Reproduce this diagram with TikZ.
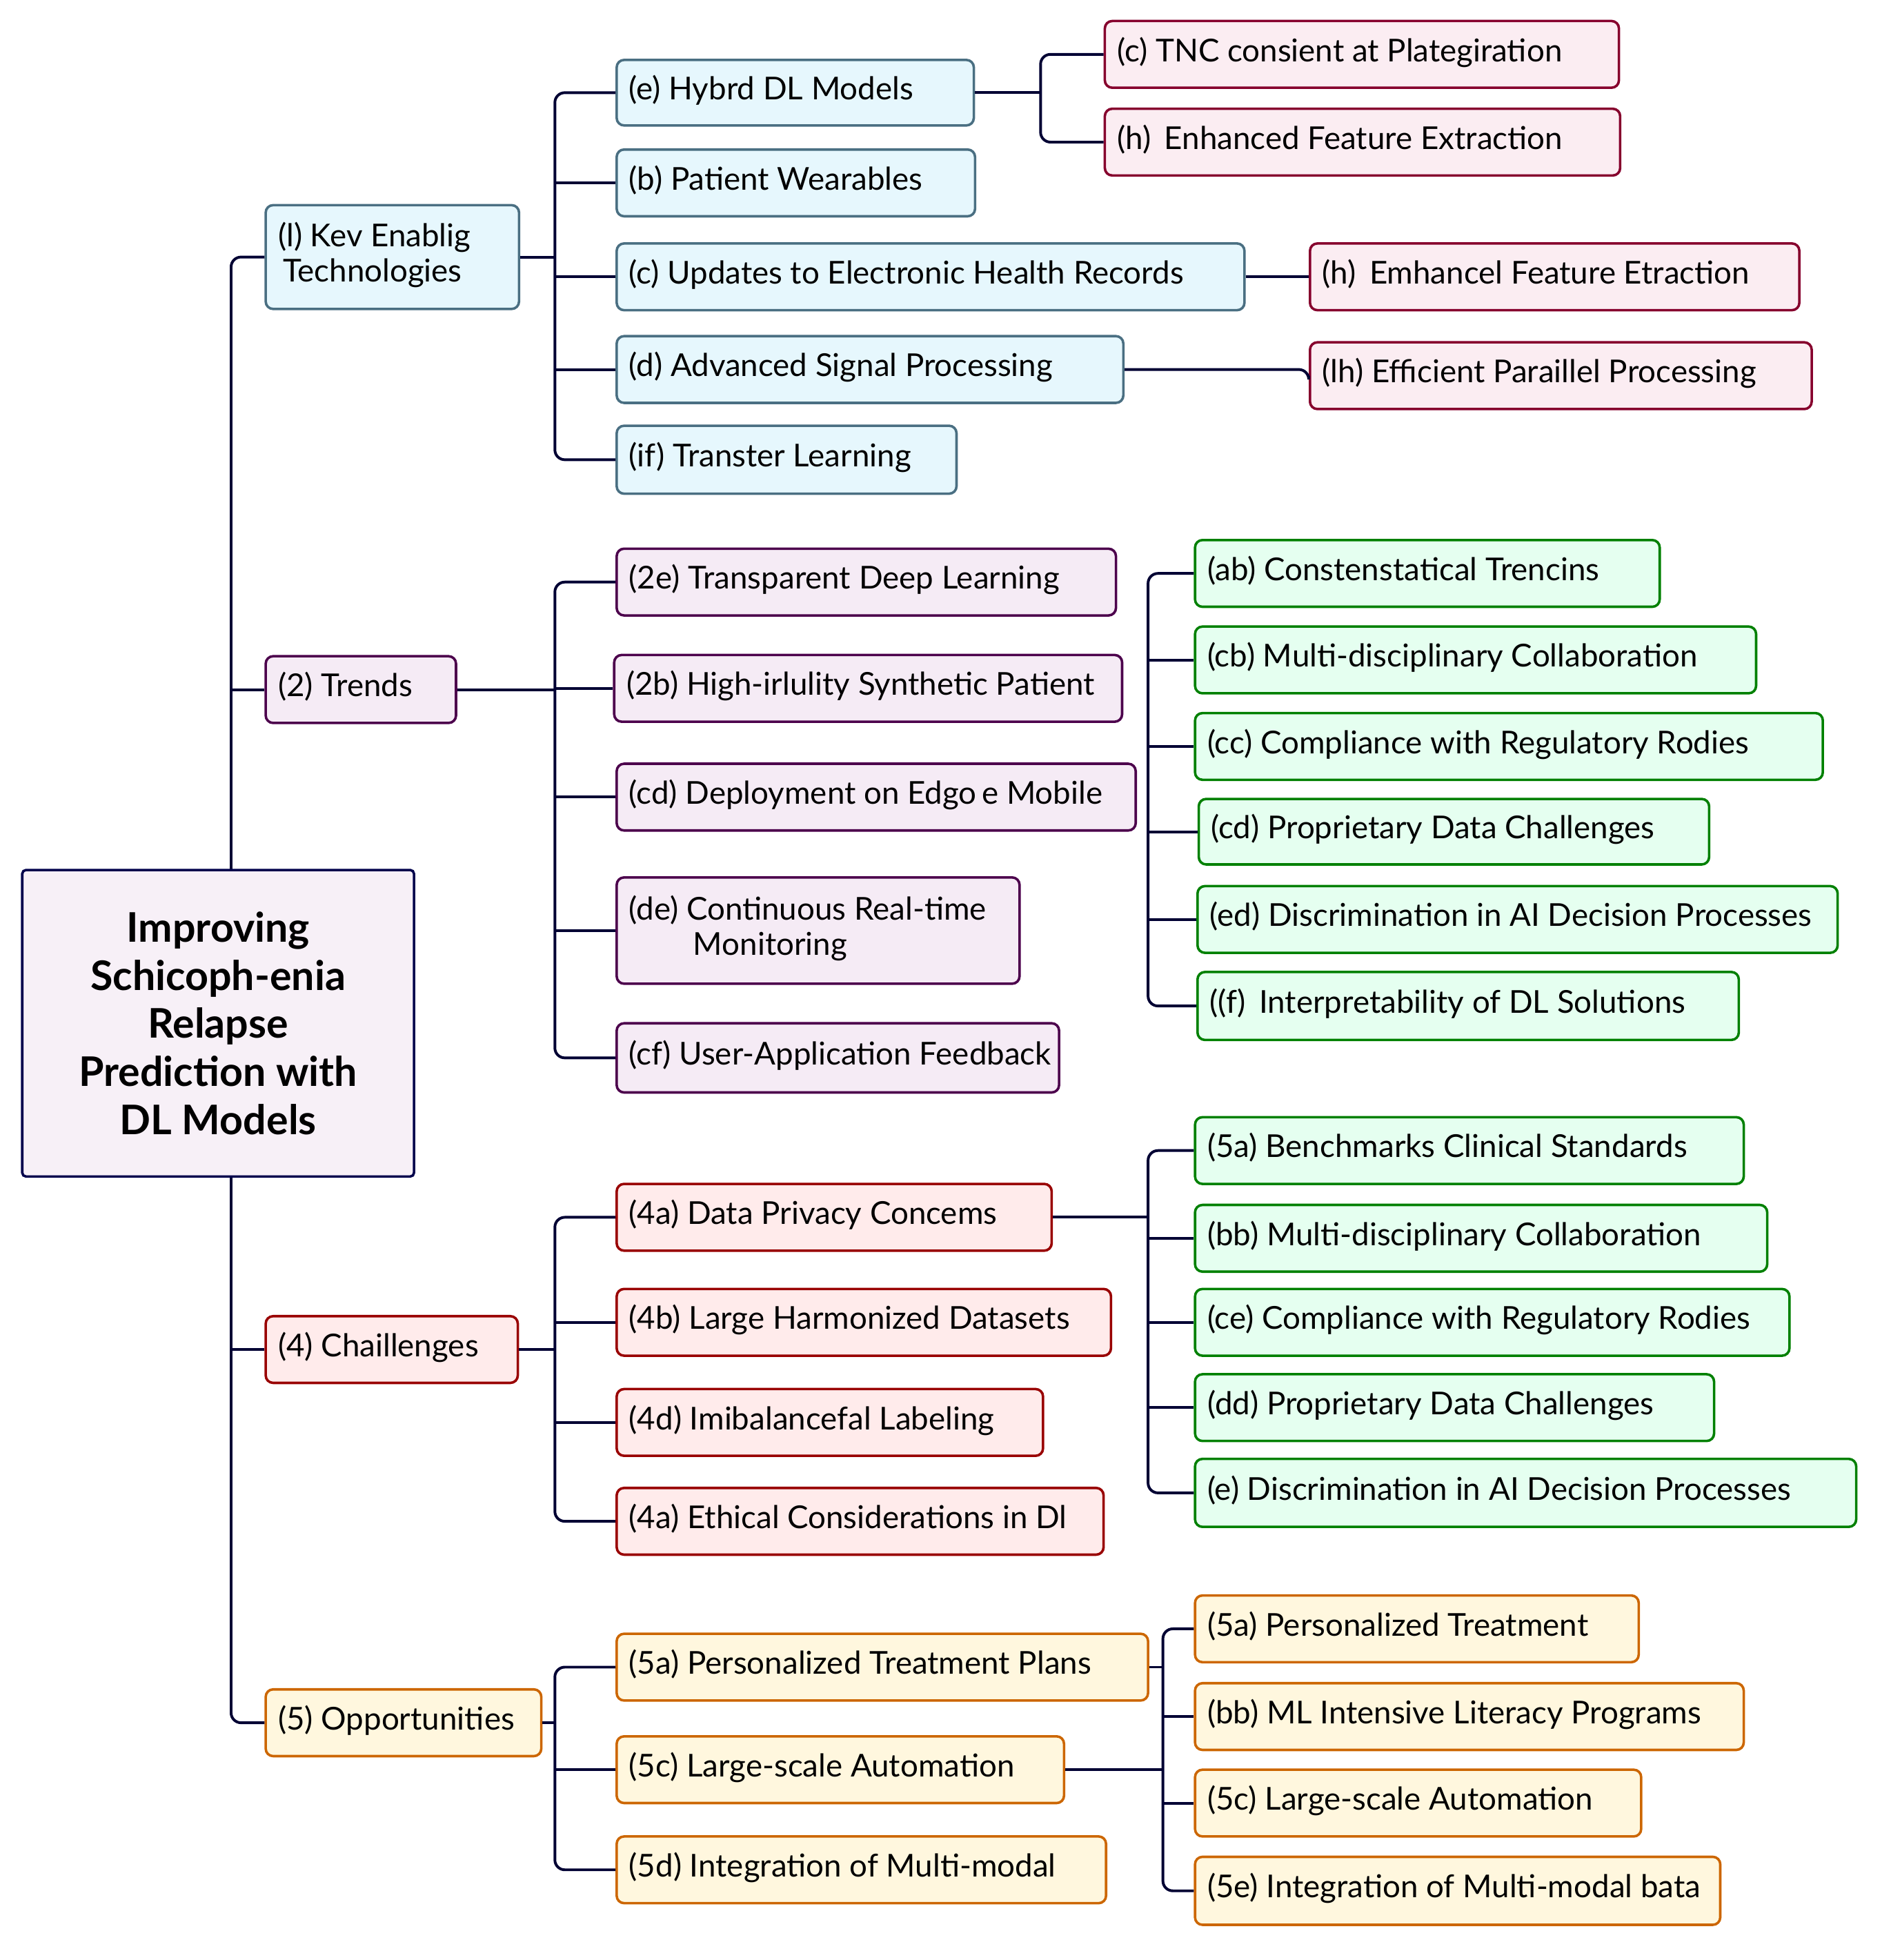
\documentclass[tikz,border=0pt]{standalone}
\usepackage{fontspec}
\setmainfont{Lato}
\begin{document}
\begin{tikzpicture}[x=1pt,y=-1pt,
 conn/.style={draw=black!80!blue,line width=2.2pt,rounded corners=8pt},
 box/.style={rounded corners=6pt,line width=2pt,inner xsep=10pt,inner ysep=2pt,font=\fontsize{25.5}{30}\selectfont},
 bl/.style={fill=cyan!10,draw=cyan!45!black},
 pr/.style={fill=violet!8,draw=violet!60!black},
 rd/.style={fill=red!8,draw=red!60!black},
 gr/.style={fill=green!60!cyan!10,draw=green!50!black},
 yl/.style={fill=yellow!60!orange!12,draw=orange!80!black},
 mg/.style={fill=purple!7,draw=purple!70!black}]
\useasboundingbox (0,0) rectangle (1530,1586);
\newcommand\bx[7]{\pgfmathsetmacro\bw{#3-#2-20}\node[box,#6,minimum height=#5pt,anchor=west] (#1) at (#2,#4) {\makebox[\bw pt][l]{\raisebox{-3pt}{\renewcommand\arraystretch{0.95}\begin{tabular}{@{}l@{}}#7\end{tabular}}}};}
% level 1
\bx{K1}{214}{419}{208}{84}{bl}{(l) Kev Enablig\\\hspace*{4pt}Technologies}
\bx{K2}{214}{368}{558}{54}{pr}{(2) Trends}
\bx{K4}{214}{418}{1092}{54}{rd}{(4) Chaillenges}
\bx{K5}{214}{437}{1394}{54}{yl}{(5) Opportunities}
% key tech
\bx{e}{498}{787}{75}{53}{bl}{(e) Hybrd DL Models}
\bx{b}{498}{788}{148}{54}{bl}{(b) Patient Wearables}
\bx{c}{498}{1006}{224}{54}{bl}{(c) Updates to Electronic Health Records}
\bx{d}{498}{908}{299}{54}{bl}{(d) Advanced Signal Processing}
\bx{f}{498}{773}{372}{55}{bl}{(if) Transter Learning}
\bx{ec}{893}{1309}{44}{54}{mg}{(c) TNC consient at Plategiration}
\bx{eh}{893}{1310}{115}{54}{mg}{(h)\, Enhanced Feature Extraction}
\bx{ch}{1059}{1455}{224}{54}{mg}{(h)\, Emhancel Feature Etraction}
\bx{dh}{1059}{1465}{304}{54}{mg}{(lh) Efficient Paraillel Processing}
% trends
\bx{t1}{498}{902}{471}{54}{pr}{(2e) Transparent Deep Learning}
\bx{t2}{496}{907}{557}{54}{pr}{(2b) High-irlulity Synthetic Patient}
\bx{t3}{498}{918}{645}{54}{pr}{(cd) Deployment on Edgo\,e Mobile}
\bx{t4}{498}{824}{753}{86}{pr}{(de) Continuous Real-time\\\hspace*{52pt}Monitoring}
\bx{t5}{498}{856}{856}{56}{pr}{(cf) User-Application Feedback}
\bx{g1}{966}{1342}{464}{54}{gr}{(ab) Constenstatical Trencins}
\bx{g2}{966}{1420}{534}{54}{gr}{(cb) Multi-disciplinary Collaboration}
\bx{g3}{966}{1474}{604}{54}{gr}{(cc) Compliance with Regulatory Rodies}
\bx{g4}{969}{1382}{673}{53}{gr}{(cd) Proprietary Data Challenges}
\bx{g5}{968}{1486}{744}{54}{gr}{(ed) Discrimination in AI Decision Processes}
\bx{g6}{968}{1406}{814}{55}{gr}{((f)\, Interpretability of DL Solutions}
% challenges
\bx{r1}{498}{850}{985}{54}{rd}{(4a) Data Privacy Concems}
\bx{r2}{498}{898}{1070}{54}{rd}{(4b) Large Harmonized Datasets}
\bx{r3}{498}{843}{1151}{54}{rd}{(4d) Imibalancefal Labeling}
\bx{r4}{498}{892}{1231}{54}{rd}{(4a) Ethical Considerations in Dl}
\bx{h1}{966}{1410}{931}{54}{gr}{(5a) Benchmarks Clinical Standards}
\bx{h2}{966}{1429}{1002}{54}{gr}{(bb) Multi-disciplinary Collaboration}
\bx{h3}{966}{1447}{1070}{54}{gr}{(ce) Compliance with Regulatory Rodies}
\bx{h4}{966}{1386}{1139}{54}{gr}{(dd) Proprietary Data Challenges}
\bx{h5}{966}{1501}{1208}{55}{gr}{(e) Discrimination in AI Decision Processes}
% opportunities
\bx{o1}{498}{928}{1349}{54}{yl}{(5a) Personalized Treatment Plans}
\bx{o2}{498}{860}{1432}{54}{yl}{(5c) Large-scale Automation}
\bx{o3}{498}{894}{1513}{54}{yl}{(5d) Integration of Multi-modal}
\bx{p1}{966}{1325}{1318}{54}{yl}{(5a) Personalized Treatment}
\bx{p2}{966}{1410}{1389}{54}{yl}{(bb) ML Intensive Literacy Programs}
\bx{p3}{966}{1327}{1459}{54}{yl}{(5c) Large-scale Automation}
\bx{p4}{966}{1391}{1530}{55}{yl}{(5e) Integration of Multi-modal bata}
% bus coordinates
\coordinate (T) at (187,0);
\coordinate (B1) at (449,0);
\coordinate (B2) at (842,0);
\coordinate (B3) at (929,0);
\coordinate (B4) at (941,0);
% connectors
\draw[conn] (K1.west) -- (K1.west -| T) -- (K5.west -| T) -- (K5.west);
\draw[conn] (K2.west -| T) -- (K2.west);
\draw[conn] (K4.west -| T) -- (K4.west);
\draw[conn] (e.west) -- (e.west -| B1) -- (f.west -| B1) -- (f.west);
\foreach \n in {b,c,d} \draw[conn] (\n.west -| B1) -- (\n.west);
\draw[conn] (K1.east) -- (K1.east -| B1);
\draw[conn] (ec.west) -- (ec.west -| B2) -- (eh.west -| B2) -- (eh.west);
\draw[conn] (e.east) -- (e.east -| B2);
\draw[conn] (c.east) -- (ch.west);
\draw[conn] (d.east) -- (d.east -| dh.west) -- (dh.west);
\draw[conn] (t1.west) -- (t1.west -| B1) -- (t5.west -| B1) -- (t5.west);
\foreach \n in {t2,t3,t4} \draw[conn] (\n.west -| B1) -- (\n.west);
\draw[conn] (K2.east) -- (K2.east -| B1);
\draw[conn] (g1.west) -- (g1.west -| B3) -- (g6.west -| B3) -- (g6.west);
\foreach \n in {g2,g3,g4,g5} \draw[conn] (\n.west -| B3) -- (\n.west);
\draw[conn] (r1.west) -- (r1.west -| B1) -- (r4.west -| B1) -- (r4.west);
\foreach \n in {r2,r3} \draw[conn] (\n.west -| B1) -- (\n.west);
\draw[conn] (K4.east) -- (K4.east -| B1);
\draw[conn] (h1.west) -- (h1.west -| B3) -- (h5.west -| B3) -- (h5.west);
\foreach \n in {h2,h3,h4} \draw[conn] (\n.west -| B3) -- (\n.west);
\draw[conn] (r1.east) -- (r1.east -| B3);
\draw[conn] (o1.west) -- (o1.west -| B1) -- (o3.west -| B1) -- (o3.west);
\draw[conn] (o2.west -| B1) -- (o2.west);
\draw[conn] (K5.east) -- (K5.east -| B1);
\draw[conn] (p1.west) -- (p1.west -| B4) -- (p4.west -| B4) -- (p4.west);
\foreach \n in {p2,p3} \draw[conn] (\n.west -| B4) -- (\n.west);
\draw[conn] (o2.east) -- (o2.east -| B4);
\draw[conn] (o1.east) -- (o1.east -| B4);
% root
\node[box,fill=violet!6,draw=blue!30!black,rounded corners=3pt,minimum width=317pt,minimum height=248pt,align=center,font=\fontsize{33}{39}\selectfont\bfseries,anchor=north west] (R) at (17,703) {Improving\\Schicoph-enia\\Relapse\\Prediction with\\DL Models};
\end{tikzpicture}
\end{document}
